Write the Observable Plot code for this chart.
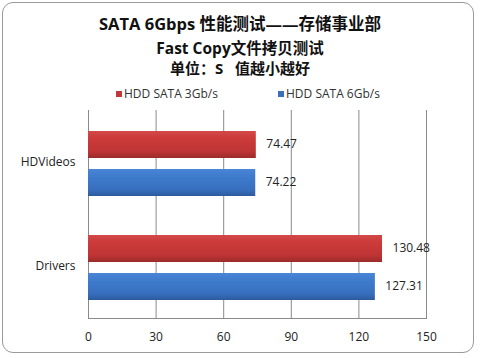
<!DOCTYPE html>
<html>
<head>
<meta charset="utf-8">
<script src="https://cdn.jsdelivr.net/npm/d3@7"></script>
<script src="https://cdn.jsdelivr.net/npm/@observablehq/plot@0.6"></script>
<style>
  html, body { margin: 0; padding: 0; background: #fff; }
  #wrap { position: relative; width: 480px; height: 358px; overflow: hidden; font-family: "Open Sans", "Noto Sans", sans-serif; }
  #border { position: absolute; left: 2px; top: 2px; width: 472px; height: 351px; border: 1px solid #9a9a9a; border-radius: 11px; box-sizing: border-box; }
  .t { position: absolute; left: 0; width: 480px; text-align: center; font-weight: bold; color: #111; font-family: "Open Sans", "Noto Sans CJK SC", sans-serif; white-space: nowrap; }
  .lg { position: absolute; top: 85px; font-size: 12px; color: #333; white-space: nowrap; font-family: "Open Sans", "Noto Sans", sans-serif; }
  .lg i { display: inline-block; width: 6px; height: 6px; margin-right: 2px; vertical-align: 1px; }
  #chart { position: absolute; left: 0; top: 100px; }
</style>
</head>
<body>
<div id="wrap">
  <div id="border"></div>
  <div class="t" style="top:11px;font-size:16.5px;">SATA 6Gbps 性能测试——存储事业部</div>
  <div class="t" style="top:36px;font-size:15.5px;">Fast Copy文件拷贝测试</div>
  <div class="t" style="top:57px;font-size:15px;">单位：S&nbsp;&nbsp;&nbsp;值越小越好</div>
  <div class="lg" style="left:116px;"><i style="background:#c0393a"></i>HDD SATA 3Gb/s</div>
  <div class="lg" style="left:278px;"><i style="background:#3a6fbc"></i>HDD SATA 6Gb/s</div>
  <div id="chart"></div>
</div>
<script>
const categories = ["HDVideos", "Drivers"];
const series = ["HDD SATA 3Gb/s", "HDD SATA 6Gb/s"];
const sata3 = [74.47, 130.48];
const sata6 = [74.22, 127.31];
const xTicks = [0, 30, 60, 90, 120, 150];

const data = categories.flatMap((c, i) => [
  {cat: c, s: series[0], v: sata3[i]},
  {cat: c, s: series[1], v: sata6[i]}
]);

const plot = Plot.plot({
  width: 480,
  height: 258,
  marginTop: 10,
  marginBottom: 40,
  marginLeft: 88,
  marginRight: 54,
  style: {fontFamily: "'Open Sans', 'Noto Sans', sans-serif", fontSize: "12px", color: "#222", background: "transparent"},
  x: {domain: [0, 150], ticks: xTicks, label: null},
  y: {domain: series, paddingInner: 0.29, paddingOuter: 0.51, axis: null},
  fy: {domain: categories, padding: 0, label: null},
  color: {domain: series, range: ["url(#gRed)", "url(#gBlue)"]},
  marks: [
    Plot.gridX(xTicks, {stroke: "#8a8a8a", strokeOpacity: 1}),
    Plot.ruleX([0], {stroke: "#8a8a8a"}),
    Plot.frame({anchor: "bottom", stroke: "#8a8a8a", fy: () => "Drivers"}),
    Plot.axisX({ticks: xTicks, tickSize: 0, tickPadding: 14, fontSize: 12, fill: "#222"}),
    Plot.axisFy({anchor: "left", tickSize: 0, tickPadding: 13, label: null, fontSize: 12, fill: "#222"}),
    Plot.barX(data, {x: "v", y: "s", fy: "cat", fill: "s", dy: 1, stroke: "none"}),
    Plot.text(data, {x: "v", y: "s", fy: "cat", text: d => d.v.toFixed(2), textAnchor: "start", dx: 10, fontSize: 12, fill: "#222"})
  ]
});

const defs = d3.select(plot).insert("defs", ":first-child");
const mk = (id, stops) => {
  const g = defs.append("linearGradient").attr("id", id).attr("x1", 0).attr("y1", 0).attr("x2", 0).attr("y2", 1);
  stops.forEach(([o, c]) => g.append("stop").attr("offset", o).attr("stop-color", c));
};
mk("gRed", [[0, "#d24a48"], [0.25, "#cc3b3a"], [0.75, "#be3434"], [1, "#9c2a2a"]]);
mk("gBlue", [[0, "#4a86d6"], [0.25, "#3f7ccd"], [0.75, "#3870bf"], [1, "#2d5a9e"]]);

document.getElementById("chart").appendChild(plot);
</script>
</body>
</html>
